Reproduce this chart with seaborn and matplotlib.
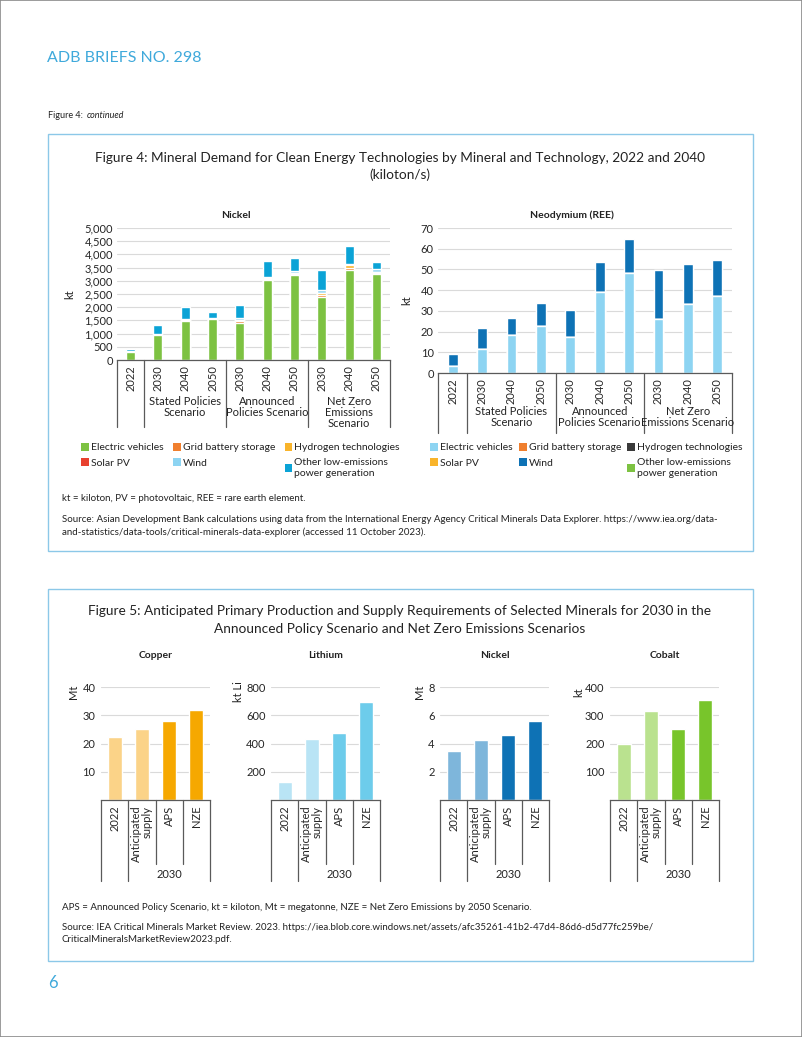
import matplotlib
matplotlib.use("Agg")
import matplotlib.pyplot as plt
import matplotlib.transforms as mtransforms
from matplotlib.patches import Rectangle, Patch
from matplotlib.ticker import StrMethodFormatter
import seaborn as sns
import pandas as pd

# --- page size (pixels at dpi 100) ---
W, H = 802, 1037

# --- FIGURE 4 DATA ---
FIG4_SLOTS = ["2022", "SPS 2030", "SPS 2040", "SPS 2050", "APS 2030", "APS 2040",
              "APS 2050", "NZE 2030", "NZE 2040", "NZE 2050"]
FIG4_YEARS = ["2022", "2030", "2040", "2050", "2030", "2040", "2050", "2030", "2040", "2050"]
TECHS = ["Electric vehicles", "Grid battery storage", "Hydrogen technologies",
         "Solar PV", "Wind", "Other low-emissions\npower generation"]

NI_EV = [320, 940, 1480, 1540, 1420, 3020, 3230, 2370, 3400, 3240]
NI_GRID = [0, 15, 20, 0, 60, 60, 40, 100, 90, 40]
NI_H2 = [0, 0, 0, 0, 20, 20, 30, 80, 90, 60]
NI_SOLAR = [0, 0, 0, 0, 0, 0, 0, 0, 0, 0]
NI_WIND = [35, 45, 40, 60, 80, 60, 90, 110, 50, 90]
NI_OTHER = [65, 320, 460, 220, 500, 580, 460, 740, 700, 290]

ND_EV = [3.5, 11.8, 18.5, 22.5, 17.2, 39.1, 48.5, 26.1, 33.5, 37.0]
ND_GRID = [0, 0, 0, 0, 0, 0, 0, 0, 0, 0]
ND_H2 = [0, 0, 0, 0, 0, 0, 0, 0, 0, 0]
ND_SOLAR = [0, 0, 0, 0, 0, 0, 0, 0, 0, 0]
ND_WIND = [5.8, 10.1, 7.9, 11.2, 13.4, 14.5, 16.1, 23.5, 19.2, 17.6]
ND_OTHER = [0, 0, 0, 0, 0, 0, 0, 0, 0, 0]

NI_COLORS = ["#7DC242", "#F07F2E", "#F9B42B", "#E8412F", "#8DD4F2", "#0BA3D6"]
ND_COLORS = ["#8DD4F2", "#F07F2E", "#3A3A3A", "#F9B42B", "#0E72B5", "#7DC242"]

# --- FIGURE 5 DATA ---
F5_LABELS = ["2022", "Anticipated\nsupply", "APS", "NZE"]
COPPER = [22.4, 25.3, 28.1, 31.8]
LITHIUM = [130, 432, 472, 693]
NICKEL = [3.44, 4.22, 4.58, 5.62]
COBALT = [199, 316, 252, 355]

BLUE_TXT = "#3FA9DB"
BOX_EDGE = "#8CC8E8"
DARK = "#5A5A5A"
TXT = "#222222"

sns.set_theme(style="white")
plt.rcParams["font.family"] = ["Lato", "DejaVu Sans"]
plt.rcParams["text.color"] = TXT

fig = plt.figure(figsize=(W / 100, H / 100), dpi=100)


def add_ax(x0, y0, x1, y1):
    return fig.add_axes([x0 / W, 1 - y1 / H, (x1 - x0) / W, (y1 - y0) / H])


def ftext(x, y, s, **kw):
    return fig.text(x / W, 1 - y / H, s, **kw)


def fy(y):
    return 1 - y / H


def vline(ax, x, y0, y1):
    trans = mtransforms.blended_transform_factory(ax.transData, fig.transFigure)
    ax.plot([x, x], [fy(y0), fy(y1)], transform=trans, clip_on=False,
            color=DARK, lw=0.9)


def group_text(ax, x, y, s, size=8):
    trans = mtransforms.blended_transform_factory(ax.transData, fig.transFigure)
    ax.text(x, fy(y), s, transform=trans, ha="center", va="top",
            fontsize=size, linespacing=1.0, color=TXT)


# page frame and boxes
fig.patches.append(Rectangle((0, 0), 1, 1, transform=fig.transFigure,
                             fill=False, edgecolor="#8A8A8A", lw=1.2))
fig.patches.append(Rectangle((48 / W, fy(551)), (753 - 48) / W, (551 - 134) / H,
                             transform=fig.transFigure, fill=False,
                             edgecolor=BOX_EDGE, lw=1.0))
fig.patches.append(Rectangle((48 / W, fy(961)), (753 - 48) / W, (961 - 589) / H,
                             transform=fig.transFigure, fill=False,
                             edgecolor=BOX_EDGE, lw=1.0))

ftext(47, 58, "ADB BRIEFS NO. 298", fontsize=11.5, color=BLUE_TXT, va="center")
ftext(48, 115, "Figure 4:", fontsize=6.5, va="center")
ftext(87, 115, "continued", fontsize=6.5, va="center", style="italic")
ftext(48, 983, "6", fontsize=12, color=BLUE_TXT, va="center")

ftext(400, 158, "Figure 4: Mineral Demand for Clean Energy Technologies by Mineral and Technology, 2022 and 2040",
      fontsize=9.8, ha="center", va="center")
ftext(400, 175, "(kiloton/s)", fontsize=9.8, ha="center", va="center")


def stacked(ax, layers, colors):
    cum = []
    run = [0] * len(FIG4_SLOTS)
    for layer in layers:
        run = [a + b for a, b in zip(run, layer)]
        cum.append(run)
    for k in range(len(layers) - 1, -1, -1):
        df = pd.DataFrame({"slot": FIG4_SLOTS, "value": cum[k]})
        sns.barplot(data=df, x="slot", y="value", order=FIG4_SLOTS,
                    color=colors[k], saturation=1, width=0.33,
                    errorbar=None, ax=ax, zorder=2)


def style_fig4(ax, base_y, sep_bot, label_y, groups, ylab, ylab_x):
    ax.set_xlabel("")
    ax.set_ylabel("")
    ax.set_xticks(range(len(FIG4_YEARS)))
    ax.set_xticklabels(FIG4_YEARS, rotation=90, va="top", fontsize=8)
    ax.tick_params(axis="x", length=0, pad=4)
    ax.tick_params(axis="y", length=0, pad=3, labelsize=8)
    ax.grid(axis="y", color="#DADADA", lw=0.8, zorder=0)
    ax.set_axisbelow(True)
    for side in ["top", "right", "left"]:
        ax.spines[side].set_visible(False)
    ax.spines["bottom"].set_color(DARK)
    ax.spines["bottom"].set_linewidth(0.9)
    ax.set_xlim(-0.5, 9.5)
    for x in [-0.5, 0.5, 3.5, 6.5, 9.5]:
        vline(ax, x, base_y, sep_bot)
    for xc, s in zip([2, 5, 8], groups):
        group_text(ax, xc, label_y, s)
    ftext(ylab_x, (228 + base_y) / 2, ylab, rotation=90, fontsize=8,
          ha="center", va="center")


# --- Nickel (Figure 4) ---
ax_ni = add_ax(117, 228, 390, 360)
stacked(ax_ni, [NI_EV, NI_GRID, NI_H2, NI_SOLAR, NI_WIND, NI_OTHER], NI_COLORS)
ax_ni.set_ylim(0, 5000)
ax_ni.set_yticks(range(0, 5001, 500))
ax_ni.yaxis.set_major_formatter(StrMethodFormatter("{x:,.0f}"))
style_fig4(ax_ni, 360, 427, 396,
           ["Stated Policies\nScenario", "Announced\nPolicies Scenario",
            "Net Zero\nEmissions\nScenario"], "kt", 70)
ftext(236, 215, "Nickel", fontsize=7.5, fontweight="bold", ha="center", va="center")

# --- Neodymium (Figure 4) ---
ax_nd = add_ax(438, 228, 732, 373)
stacked(ax_nd, [ND_EV, ND_GRID, ND_H2, ND_SOLAR, ND_WIND, ND_OTHER], ND_COLORS)
ax_nd.set_ylim(0, 70)
ax_nd.set_yticks(range(0, 71, 10))
style_fig4(ax_nd, 373, 433, 406,
           ["Stated Policies\nScenario", "Announced\nPolicies Scenario",
            "Net Zero\nEmissions Scenario"], "kt", 407)
ftext(572, 215, "Neodymium (REE)", fontsize=7.5, fontweight="bold", ha="center", va="center")

# --- legends (Figure 4) ---
order = [0, 3, 1, 4, 2, 5]
for colors, x, colsp in [(NI_COLORS, 81, 0.9), (ND_COLORS, 430, 0.6)]:
    handles = [Patch(facecolor=colors[i], edgecolor="none", label=TECHS[i]) for i in order]
    fig.legend(handles=handles, loc="upper left", bbox_to_anchor=(x / W, fy(443)),
               ncol=3, frameon=False, fontsize=7.5, handlelength=0.75,
               handleheight=0.75, handletextpad=0.2, columnspacing=colsp,
               borderaxespad=0, borderpad=0, labelspacing=0.55)

ftext(62, 498, "kt = kiloton, PV = photovoltaic, REE = rare earth element.",
      fontsize=7, va="center")
ftext(62, 519, "Source: Asian Development Bank calculations using data from the International Energy Agency Critical Minerals Data Explorer. https://www.iea.org/data-",
      fontsize=7, va="center")
ftext(62, 532, "and-statistics/data-tools/critical-minerals-data-explorer (accessed 11 October 2023).",
      fontsize=7, va="center")

# --- FIGURE 5 ---
ftext(400, 611, "Figure 5: Anticipated Primary Production and Supply Requirements of Selected Minerals for 2030 in the",
      fontsize=9.8, ha="center", va="center")
ftext(400, 629, "Announced Policy Scenario and Net Zero Emissions Scenarios",
      fontsize=9.8, ha="center", va="center")

F5_PANELS = [
    ("Copper", COPPER, 101, 40, 10, "Mt", 73, ["#FBD388", "#FBD388", "#F6A800", "#F6A800"]),
    ("Lithium", LITHIUM, 271, 800, 200, "kt Li", 238, ["#B9E4F5", "#B9E4F5", "#6DCCEB", "#6DCCEB"]),
    ("Nickel", NICKEL, 440, 8, 2, "Mt", 420, ["#7EB6DB", "#7EB6DB", "#0E72B5", "#0E72B5"]),
    ("Cobalt", COBALT, 610, 400, 100, "kt", 579, ["#BAE28F", "#BAE28F", "#78C52B", "#78C52B"]),
]

for name, vals, x0, ymax, step, unit, ux, pal in F5_PANELS:
    ax = add_ax(x0, 687, x0 + 109, 800)
    df = pd.DataFrame({"cat": F5_LABELS, "value": vals})
    sns.barplot(data=df, x="cat", y="value", hue="cat", palette=pal,
                order=F5_LABELS, hue_order=F5_LABELS, legend=False,
                saturation=1, width=0.52, errorbar=None, ax=ax, zorder=2)
    ax.set_ylim(0, ymax)
    ax.set_yticks([step * i for i in range(1, int(ymax / step) + 1)])
    ax.set_xlim(-0.5, 3.5)
    ax.set_xlabel("")
    ax.set_ylabel("")
    ax.set_xticks(range(4))
    ax.set_xticklabels(F5_LABELS, rotation=90, va="top", fontsize=8,
                       multialignment="right", linespacing=0.95)
    ax.tick_params(axis="x", length=0, pad=4)
    ax.tick_params(axis="y", length=0, pad=4, labelsize=8)
    ax.grid(axis="y", color="#DADADA", lw=0.8, zorder=0)
    ax.set_axisbelow(True)
    for side in ["top", "right", "left"]:
        ax.spines[side].set_visible(False)
    ax.spines["bottom"].set_color(DARK)
    ax.spines["bottom"].set_linewidth(0.9)
    for x in [-0.5, 0.5, 3.5]:
        vline(ax, x, 800, 881)
    for x in [1.5, 2.5]:
        vline(ax, x, 800, 864)
    group_text(ax, 2, 869, "2030")
    ftext(x0 + 55, 656, name, fontsize=7.5, fontweight="bold", ha="center", va="center")
    ftext(ux, 692, unit, rotation=90, fontsize=8, ha="center", va="center")

ftext(62, 908, "APS = Announced Policy Scenario, kt = kiloton, Mt = megatonne, NZE = Net Zero Emissions by 2050 Scenario.",
      fontsize=7, va="center")
ftext(62, 928, "Source: IEA Critical Minerals Market Review. 2023. https://iea.blob.core.windows.net/assets/afc35261-41b2-47d4-86d6-d5d77fc259be/",
      fontsize=7, va="center")
ftext(62, 940, "CriticalMineralsMarketReview2023.pdf.", fontsize=7, va="center")

fig.savefig("out.png", dpi=100)
